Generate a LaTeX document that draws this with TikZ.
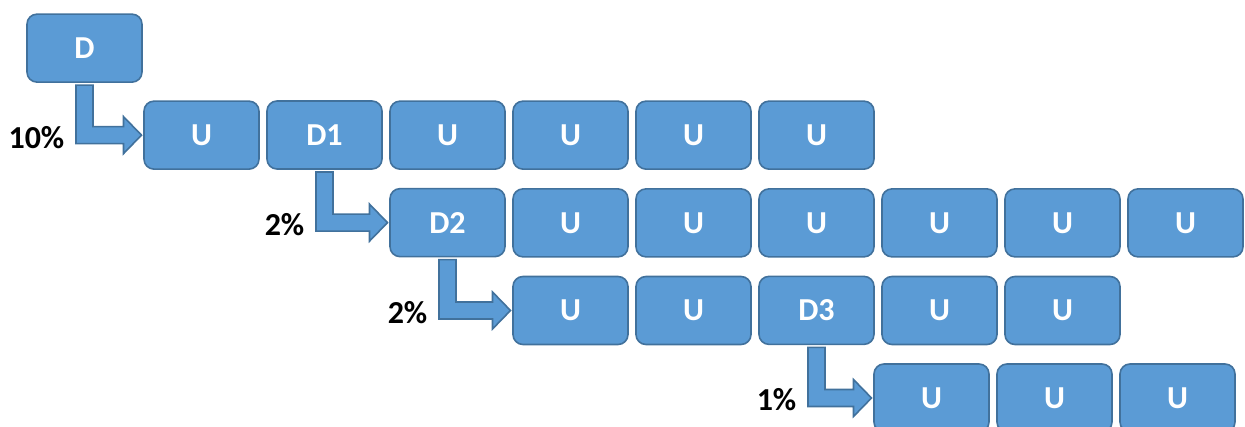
\documentclass[tikz,border=0pt]{standalone}
\usepackage{fontspec}
\setmainfont{Carlito}
\usepackage{tikz}
\usetikzlibrary{matrix,
                positioning,
                calc}
\definecolor{boxfill}{HTML}{5B9BD5}
\definecolor{boxline}{HTML}{41719C}

\begin{document}
\begin{tikzpicture}[
x=1pt, y=1pt,
      box/.style = {draw=boxline, line width=1.6pt, fill=boxfill, rounded corners=10pt,
                    minimum width=115pt, minimum height=68pt, inner sep=0pt, outer sep=0pt,
                    text=white, font=\bfseries\fontsize{32}{38}\selectfont},
        M/.style = {matrix of nodes,
                    nodes = {box},
                    inner sep=0pt, outer sep=0pt,
                    column sep=6.4pt,
                    row sep=17.9pt},
      pct/.style = {inner sep=0pt, font=\bfseries\fontsize{32}{38}\selectfont},
     bent/.style = {draw=boxline, line width=1.6pt, fill=boxfill}
                    ]
\useasboundingbox (0,0) rectangle (1245,-426);

\matrix (m) [M, anchor=north west] at (143.2,-100.2)
{
U & D1 & U  & U & U & U  &   &   &   \\
  &    & D2 & U & U & U  & U & U & U \\
  &    &    & U & U & D3 & U & U &   \\
};
\node (d)  [box, above left=19pt and 2pt of m-1-1.north west] {D};
\node (e1) [box, below right=19.5pt and -8pt of m-3-7.south west] {U};
\node (e2) [box, right=8pt of e1] {U};
\node (e3) [box, right=8pt of e2] {U};

\foreach \s/\t/\p [count=\i] in {d/m-1-1/10, m-1-2/m-2-3/2, m-2-3/m-3-4/2, m-3-6/e1/1}
{
\draw[bent] ([shift={(-8.5,-3)}]\s.south) -- ([shift={(8.5,-3)}]\s.south)
         -- ([shift={(8.5,8.5)}]\s.south |- \t.west) -- ([shift={(-20.5,8.5)}]\t.west)
         -- ([shift={(-20.5,18.5)}]\t.west) -- ([xshift=-2.5]\t.west)
         -- ([shift={(-20.5,-18.5)}]\t.west) -- ([shift={(-20.5,-8.5)}]\t.west)
         -- ([shift={(-8.5,-8.5)}]\s.south |- \t.west) -- cycle;
\node (p\i) [pct, anchor=east] at ([shift={(-20,-2)}]\s.south |- \t.west) {\p\%};
}
\end{tikzpicture}
\end{document}
